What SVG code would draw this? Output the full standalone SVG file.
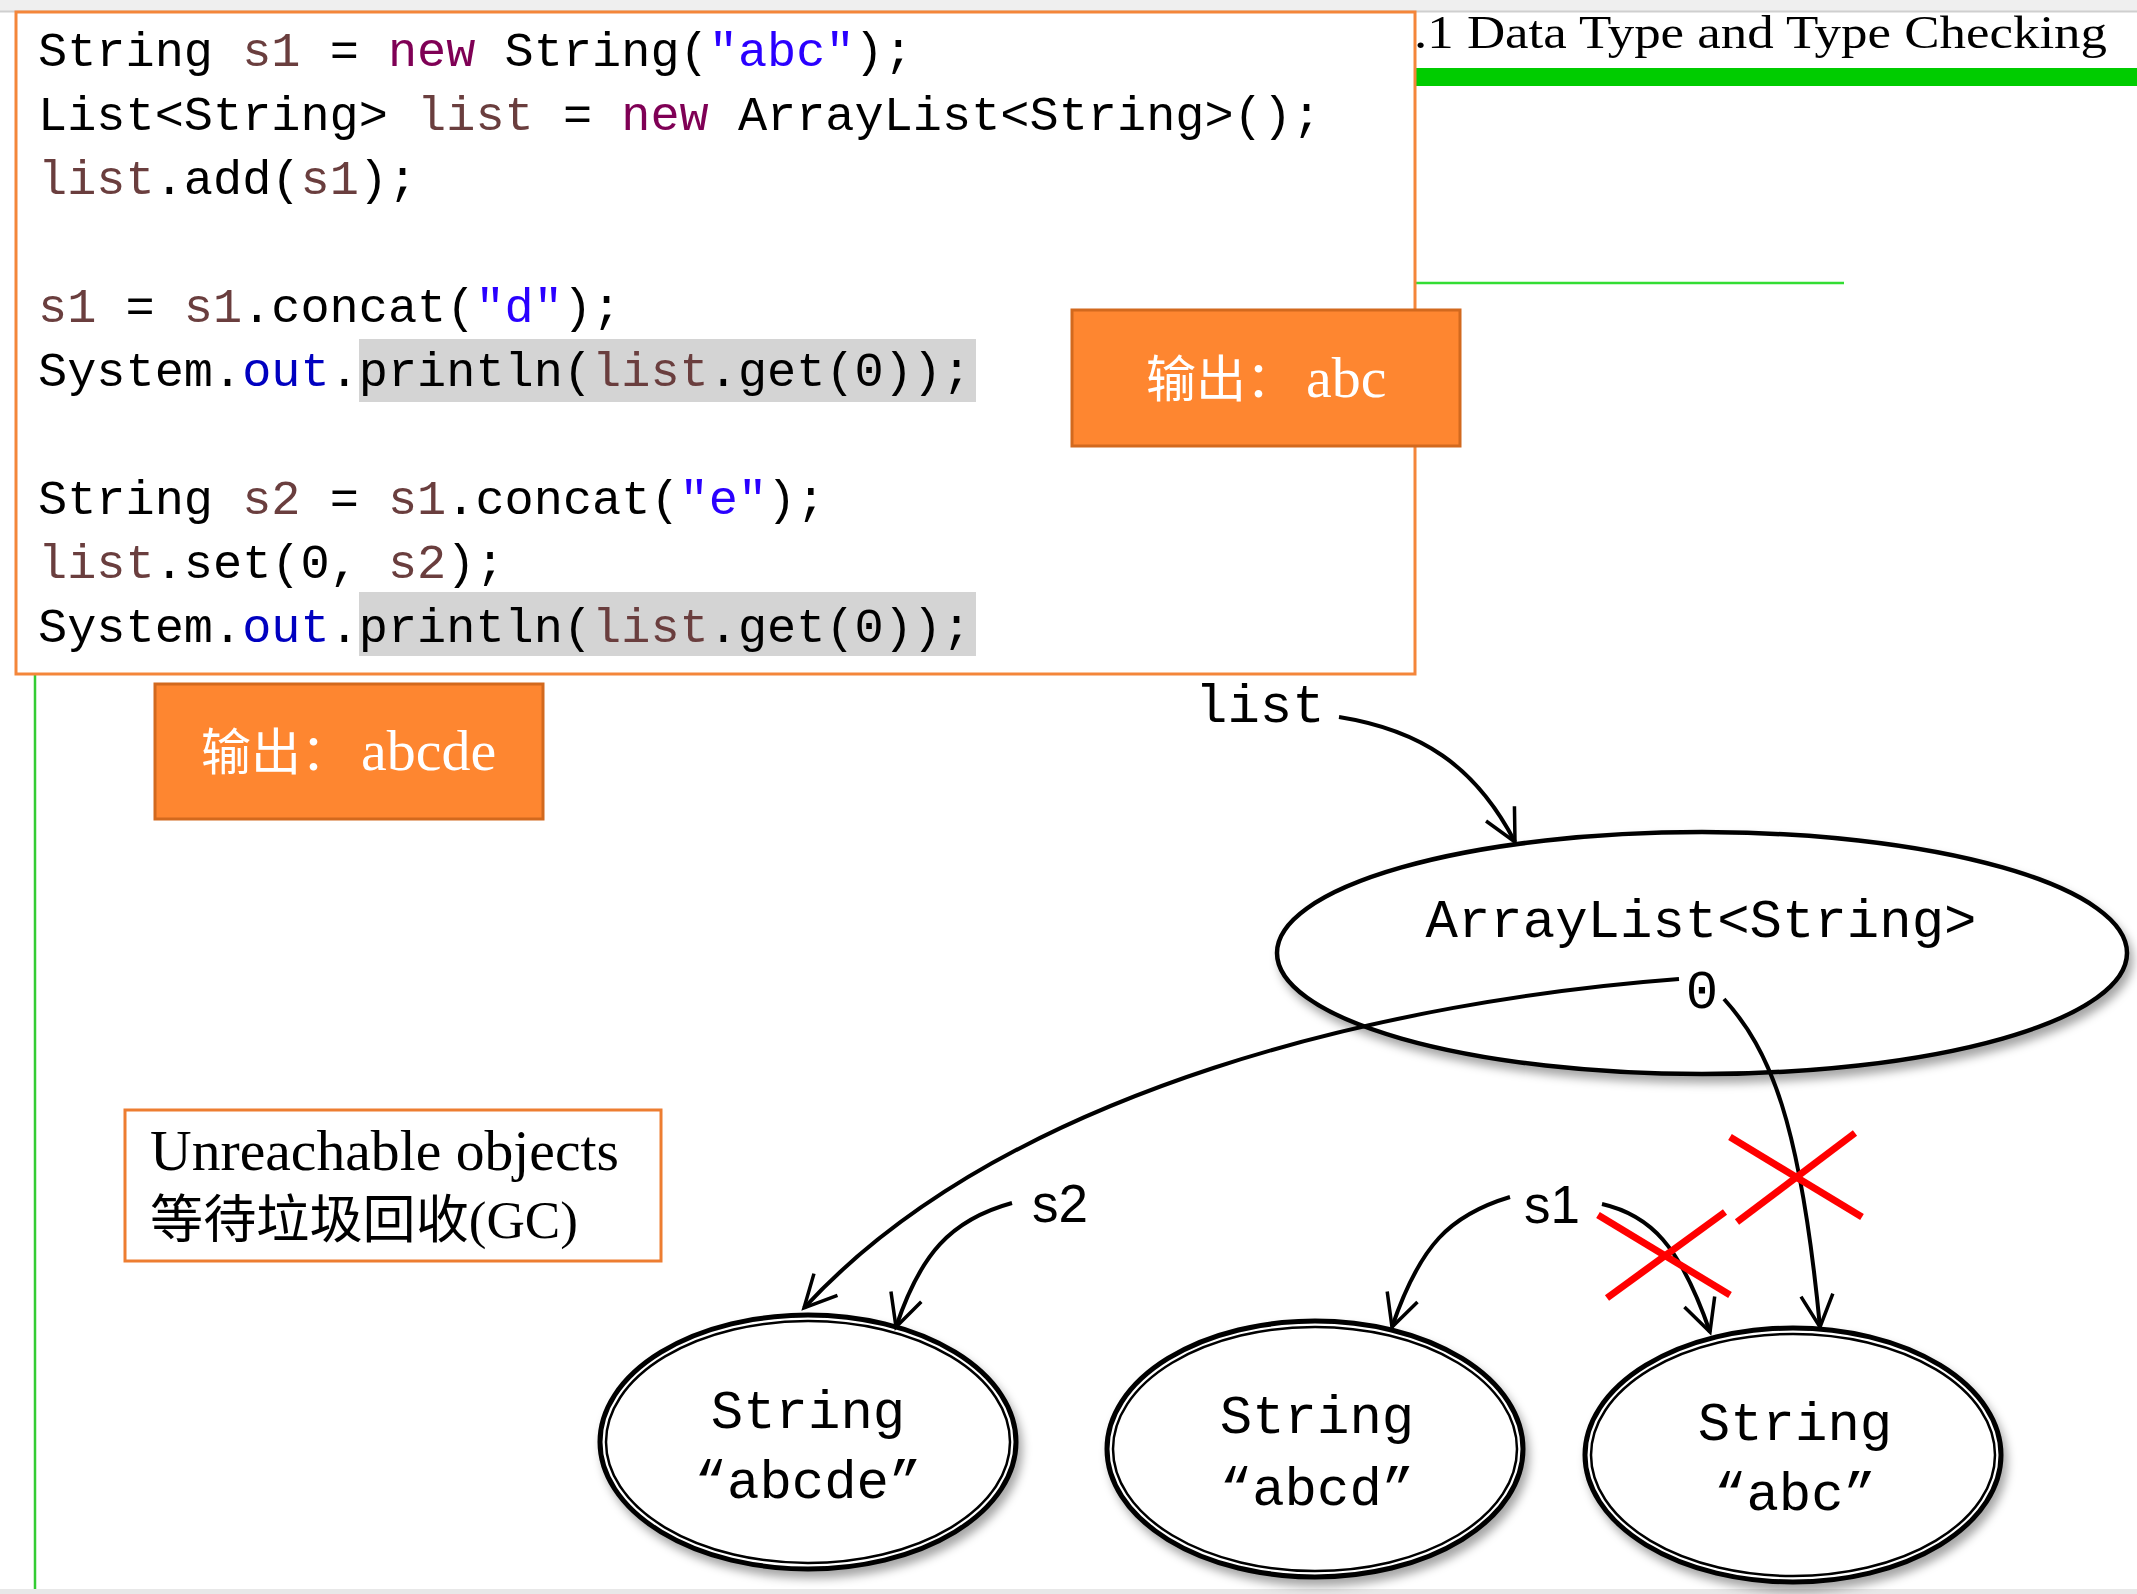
<svg xmlns="http://www.w3.org/2000/svg" width="2137" height="1594" viewBox="0 0 2137 1594">
<style>
.code{font-family:"Liberation Mono","DejaVu Sans Mono",monospace;font-size:48.6px;fill:#000}
.v{fill:#6a3e3e}.k{fill:#7f0055}.s{fill:#2a00ff}.f{fill:#0000c0}
.mono{font-family:"Liberation Mono","DejaVu Sans Mono",monospace;font-size:54px;fill:#000}
.lbl{font-family:"Liberation Sans","Open Sans",sans-serif;font-size:53px;fill:#000}
.serif{font-family:"Liberation Serif","Noto Sans CJK SC",serif}
.out{fill:#fe8630;stroke:#d2691e;stroke-width:3}
.outt{font-family:"Liberation Serif","Noto Sans CJK SC",serif;font-size:50px;fill:#fff}
.big{font-size:58px}
.conn{fill:none;stroke:#000;stroke-width:4;marker-end:url(#arr)}
.x{stroke:#ff0000;stroke-width:7;stroke-linecap:butt}
.node{fill:#fff;stroke:#000}
</style>
<defs>
<marker id="arr" markerUnits="userSpaceOnUse" viewBox="0 0 40 36" markerWidth="40" markerHeight="36" refX="36" refY="18" orient="auto">
<path d="M4,2 L36,18 L4,34" fill="none" stroke="#000" stroke-width="3.5"/>
</marker>
<filter id="sh" x="-10%" y="-10%" width="125%" height="130%">
<feDropShadow dx="4" dy="7" stdDeviation="5" flood-color="#000" flood-opacity="0.35"/>
</filter>
</defs>
<rect width="2137" height="1594" fill="#fff"/>
<rect x="0" y="0" width="2137" height="11" fill="#efefef"/>
<line x1="0" y1="11.5" x2="2137" y2="11.5" stroke="#cfcfcf" stroke-width="2"/>
<rect x="0" y="1589" width="2137" height="5" fill="#e8e8e8"/>
<line x1="35" y1="12" x2="35" y2="1589" stroke="#33cc33" stroke-width="2.5"/>
<rect x="1415" y="68" width="722" height="18" fill="#00cc00"/>
<line x1="1415" y1="283" x2="1844" y2="283" stroke="#33dd33" stroke-width="2.5"/>
<text x="1414" y="48" class="serif" font-size="47" textLength="693" lengthAdjust="spacingAndGlyphs" fill="#000">.1 Data Type and Type Checking</text>

<g id="code">
<rect x="16" y="12" width="1399" height="662" fill="#fff" stroke="#f4863a" stroke-width="3"/>
<rect x="359" y="339" width="617" height="63" fill="#d4d4d4"/>
<rect x="359" y="592" width="617" height="64" fill="#d4d4d4"/>
<text class="code" x="38" y="66" xml:space="preserve">String <tspan class="v">s1</tspan> = <tspan class="k">new</tspan> String(<tspan class="s">"abc"</tspan>);</text>
<text class="code" x="38" y="130" xml:space="preserve">List&lt;String&gt; <tspan class="v">list</tspan> = <tspan class="k">new</tspan> ArrayList&lt;String&gt;();</text>
<text class="code" x="38" y="194" xml:space="preserve"><tspan class="v">list</tspan>.add(<tspan class="v">s1</tspan>);</text>
<text class="code" x="38" y="322" xml:space="preserve"><tspan class="v">s1</tspan> = <tspan class="v">s1</tspan>.concat(<tspan class="s">"d"</tspan>);</text>
<text class="code" x="38" y="386" xml:space="preserve">System.<tspan class="f">out</tspan>.println(<tspan class="v">list</tspan>.get(0));</text>
<text class="code" x="38" y="514" xml:space="preserve">String <tspan class="v">s2</tspan> = <tspan class="v">s1</tspan>.concat(<tspan class="s">"e"</tspan>);</text>
<text class="code" x="38" y="578" xml:space="preserve"><tspan class="v">list</tspan>.set(0, <tspan class="v">s2</tspan>);</text>
<text class="code" x="38" y="642" xml:space="preserve">System.<tspan class="f">out</tspan>.println(<tspan class="v">list</tspan>.get(0));</text>
</g>

<g id="out1">
<rect class="out" x="1072" y="310" width="388" height="136"/>
<text class="outt" x="1146" y="397">输出：<tspan class="big" x="1306">abc</tspan></text>
</g>
<g id="out2">
<rect class="out" x="155" y="684" width="388" height="135"/>
<text class="outt" x="201" y="770">输出：<tspan class="big" x="361">abcde</tspan></text>
</g>
<g id="note">
<rect x="125" y="1110" width="536" height="151" fill="#fff" stroke="#ed7d31" stroke-width="3"/>
<text class="serif" x="150" y="1170" font-size="56" textLength="469" lengthAdjust="spacingAndGlyphs" fill="#000">Unreachable objects</text>
<text class="serif" x="150" y="1238" font-size="52" textLength="428" lengthAdjust="spacingAndGlyphs" fill="#000">等待垃圾回收(GC)</text>
</g>

<g id="arraylist">
<ellipse class="node" cx="1702" cy="953" rx="425" ry="121" stroke-width="4.5" filter="url(#sh)"/>
<text class="mono" x="1701" y="937" text-anchor="middle">ArrayList&lt;String&gt;</text>
<text class="mono" x="1702" y="1008" text-anchor="middle">0</text>
</g>
<g id="str-abcde">
<ellipse class="node" cx="808" cy="1442" rx="208" ry="127" stroke-width="5" filter="url(#sh)"/>
<ellipse cx="808" cy="1442" rx="202" ry="121" fill="none" stroke="#000" stroke-width="2.5"/>
<text class="mono" x="808" y="1428" text-anchor="middle">String</text>
<text class="mono" x="808" y="1498" text-anchor="middle">“abcde”</text>
</g>
<g id="str-abcd">
<ellipse class="node" cx="1315" cy="1449" rx="208" ry="128" stroke-width="5" filter="url(#sh)"/>
<ellipse cx="1315" cy="1449" rx="202" ry="122" fill="none" stroke="#000" stroke-width="2.5"/>
<text class="mono" x="1317" y="1433" text-anchor="middle">String</text>
<text class="mono" x="1317" y="1505" text-anchor="middle">“abcd”</text>
</g>
<g id="str-abc">
<ellipse class="node" cx="1793" cy="1455" rx="208" ry="127" stroke-width="5" filter="url(#sh)"/>
<ellipse cx="1793" cy="1455" rx="202" ry="121" fill="none" stroke="#000" stroke-width="2.5"/>
<text class="mono" x="1795" y="1440" text-anchor="middle">String</text>
<text class="mono" x="1795" y="1510" text-anchor="middle">“abc”</text>
</g>
<g id="labels">
<text class="mono" x="1195" y="722" font-size="53">list</text>
<text class="lbl" x="1524" y="1223">s1</text>
<text class="lbl" x="1032" y="1222">s2</text>
</g>

<g id="connectors">
<path class="conn" d="M1339,717 C1420,730 1475,765 1515,842"/>
<path class="conn" d="M1679,979 C1400,1000 1010,1085 804,1308"/>
<path class="conn" d="M1724,999 C1770,1050 1800,1120 1820,1327"/>
<path class="conn" d="M1012,1203 C950,1220 920,1255 896,1327"/>
<path class="conn" d="M1510,1197 C1450,1215 1420,1245 1392,1327"/>
<path class="conn" d="M1602,1204 C1650,1215 1680,1245 1710,1332"/>
</g>
<g id="crosses">
<line class="x" x1="1730" y1="1137" x2="1862" y2="1217"/>
<line class="x" x1="1855" y1="1133" x2="1737" y2="1222"/>
<line class="x" x1="1598" y1="1215" x2="1730" y2="1295"/>
<line class="x" x1="1725" y1="1212" x2="1607" y2="1298"/>
</g>
</svg>
